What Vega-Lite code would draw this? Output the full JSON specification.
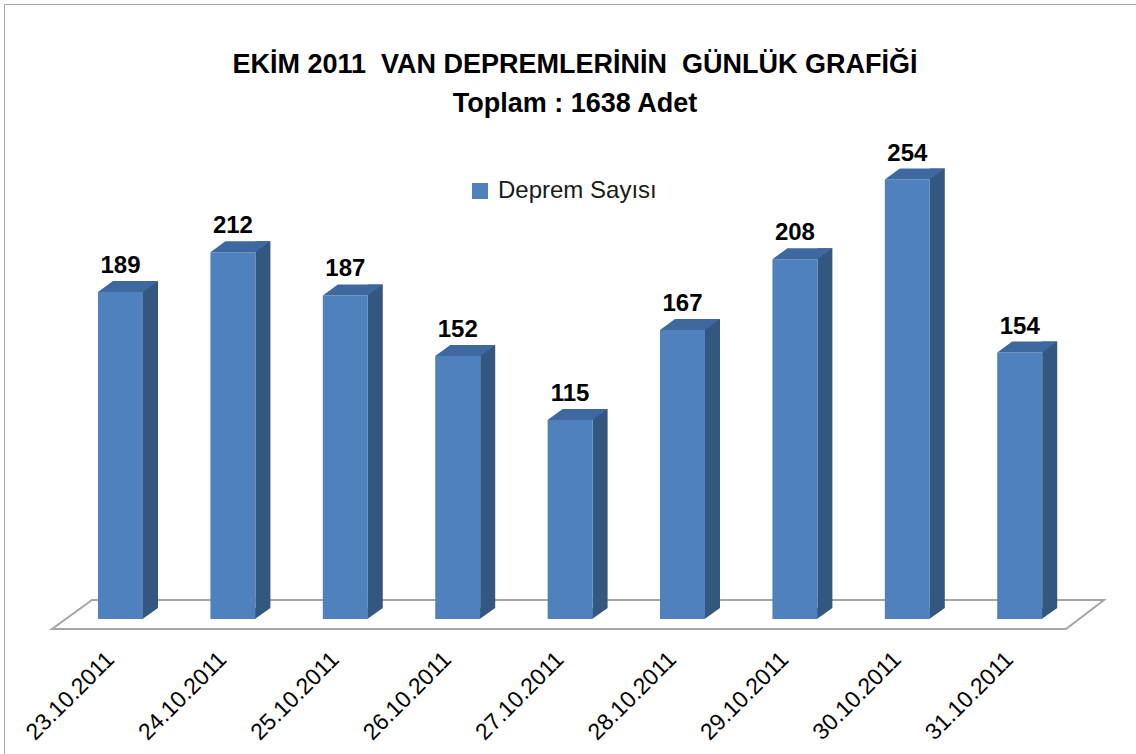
{
  "$schema": "https://vega.github.io/schema/vega-lite/v6.json",
  "width": 1132,
  "height": 750,
  "autosize": {"type": "none"},
  "padding": {"left": 4, "top": 4, "right": 0, "bottom": 0},
  "background": "white",
  "view": {"stroke": "#a6a6a6", "strokeWidth": 1},
  "title": {
    "text": ["EKİM 2011\u00a0 VAN DEPREMLERİNİN\u00a0 GÜNLÜK GRAFİĞİ", "Toplam : 1638 Adet"],
    "font": "Liberation Sans",
    "fontSize": 27,
    "fontWeight": "bold",
    "color": "#000000",
    "lineHeight": 39,
    "anchor": "middle",
    "frame": "group",
    "offset": -114,
    "dx": 5
  },
  "data": {
    "values": [
      {"tarih": "23.10.2011", "sayi": 189, "seri": "Deprem Sayısı"},
      {"tarih": "24.10.2011", "sayi": 212, "seri": "Deprem Sayısı"},
      {"tarih": "25.10.2011", "sayi": 187, "seri": "Deprem Sayısı"},
      {"tarih": "26.10.2011", "sayi": 152, "seri": "Deprem Sayısı"},
      {"tarih": "27.10.2011", "sayi": 115, "seri": "Deprem Sayısı"},
      {"tarih": "28.10.2011", "sayi": 167, "seri": "Deprem Sayısı"},
      {"tarih": "29.10.2011", "sayi": 208, "seri": "Deprem Sayısı"},
      {"tarih": "30.10.2011", "sayi": 254, "seri": "Deprem Sayısı"},
      {"tarih": "31.10.2011", "sayi": 154, "seri": "Deprem Sayısı"}
    ]
  },
  "encoding": {
    "x": {
      "field": "tarih",
      "type": "nominal",
      "sort": null,
      "axis": null,
      "scale": {
        "domain": ["23.10.2011", "24.10.2011", "25.10.2011", "26.10.2011", "27.10.2011", "28.10.2011", "29.10.2011", "30.10.2011", "31.10.2011"],
        "range": [60.3, 1071.9],
        "paddingInner": 0.6,
        "paddingOuter": 0.3
      }
    }
  },
  "layer": [
    {
      "transform": [{"filter": "datum.tarih == '27.10.2011'"}],
      "mark": {
        "type": "point",
        "shape": "M -1.0362 0.02 L -0.9562 -0.038 L 1.0678 -0.038 L 0.9918 0.02 Z",
        "size": 1000000,
        "filled": true,
        "fill": "#ffffff",
        "stroke": "#a6a6a6",
        "strokeWidth": 2,
        "opacity": 1
      },
      "encoding": {
        "y": {"datum": 0, "type": "quantitative", "scale": {"domain": [-78.03, 355.49], "nice": false, "zero": false}, "axis": null}
      }
    },
    {
      "mark": {"type": "bar", "width": 15, "xOffset": 30, "yOffset": -11, "y2Offset": -11, "color": "#34577F"},
      "encoding": {
        "y": {"field": "sayi", "type": "quantitative"},
        "y2": {"datum": 0}
      }
    },
    {
      "mark": {
        "type": "point",
        "shape": "M 0.44 0 L 0.44 -0.22 L 0.75 -0.22 Z",
        "size": 10000,
        "filled": true,
        "color": "#34577F",
        "strokeWidth": 0,
        "opacity": 1
      },
      "encoding": {
        "y": {"datum": 0, "type": "quantitative"}
      }
    },
    {
      "mark": {"type": "bar"},
      "encoding": {
        "y": {"field": "sayi", "type": "quantitative"},
        "y2": {"datum": 0},
        "color": {
          "field": "seri",
          "type": "nominal",
          "scale": {"range": ["#4F81BD"]},
          "legend": {
            "orient": "none",
            "legendX": 464,
            "legendY": 175,
            "title": null,
            "symbolType": "square",
            "symbolSize": 256,
            "symbolStrokeWidth": 0,
            "symbolOpacity": 1,
            "labelFont": "Liberation Sans",
            "labelFontSize": 24,
            "labelColor": "#1a1a1a",
            "labelOffset": 6,
            "padding": 0
          }
        }
      }
    },
    {
      "mark": {
        "type": "point",
        "shape": "M -0.45 0 L 0.45 0 L 0.75 -0.22 L -0.15 -0.22 Z",
        "size": 10000,
        "filled": true,
        "color": "#3E68A0",
        "strokeWidth": 0,
        "opacity": 1
      },
      "encoding": {
        "y": {"field": "sayi", "type": "quantitative"}
      }
    },
    {
      "mark": {"type": "text", "font": "Liberation Sans", "fontSize": 24, "fontWeight": "bold", "color": "#000000", "dy": -19, "baseline": "alphabetic", "align": "center"},
      "encoding": {
        "y": {"field": "sayi", "type": "quantitative"},
        "text": {"field": "sayi", "type": "quantitative"}
      }
    },
    {
      "mark": {"type": "text", "font": "Liberation Sans", "fontSize": 23, "color": "#000000", "angle": -45, "align": "right", "baseline": "middle", "xOffset": -10, "yOffset": 37},
      "encoding": {
        "y": {"datum": 0, "type": "quantitative"},
        "text": {"field": "tarih", "type": "nominal"}
      }
    }
  ]
}
